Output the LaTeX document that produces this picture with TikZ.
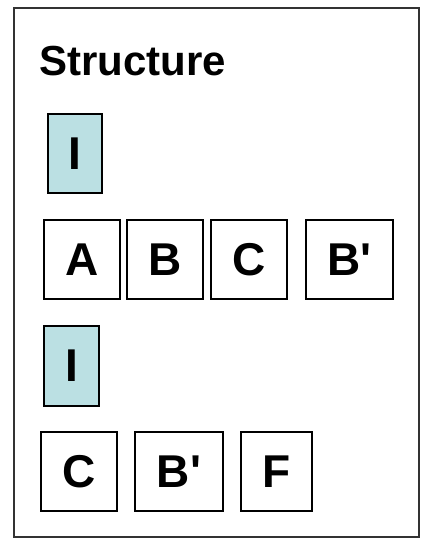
\documentclass[tikz,border=0pt]{standalone}
\usepackage{fontspec}
\setmainfont{Liberation Sans}
\definecolor{identfill}{RGB}{187,224,227}
\begin{document}
\begin{tikzpicture}[
    x=1pt, y=-1pt,
    frame/.style={draw=black!80, line width=1.1pt},
    block/.style={draw=black, line width=1.1pt, fill=white, inner sep=0pt,
        font=\fontsize{46}{46}\selectfont\bfseries},
    ident block/.style={block, fill=identfill},
    title/.style={font=\fontsize{42}{42}\selectfont\bfseries, inner sep=0pt}
]
    \path[use as bounding box] (0,0) rectangle (422,541);

    % Outer frame and heading.
    \draw[frame] (14,8) rectangle (419,537);
    \node[title, anchor=base west] (heading) at (39,75) {Structure};

    % First row: the identity block and A B C B'.
    \node[ident block, minimum width=54, minimum height=79] (i1) at (75,153.5) {I};
    \node[block, minimum width=76, minimum height=79] (a)  at (82,259.5)  {A};
    \node[block, minimum width=76, minimum height=79] (b)  at (165,259.5) {B};
    \node[block, minimum width=76, minimum height=79] (c1) at (249,259.5) {C};
    \node[block, minimum width=87, minimum height=79] (bp1) at (349.5,259.5) {B\textquotesingle};

    % Second row: the identity block and C B' F.
    \node[ident block, minimum width=55, minimum height=80] (i2) at (71.5,366) {I};
    \node[block, minimum width=76, minimum height=79] (c2)  at (79,471.5)  {C};
    \node[block, minimum width=88, minimum height=79] (bp2) at (179,471.5) {B\textquotesingle};
    \node[block, minimum width=71, minimum height=79] (f)   at (276.5,471.5) {F};
\end{tikzpicture}
\end{document}
